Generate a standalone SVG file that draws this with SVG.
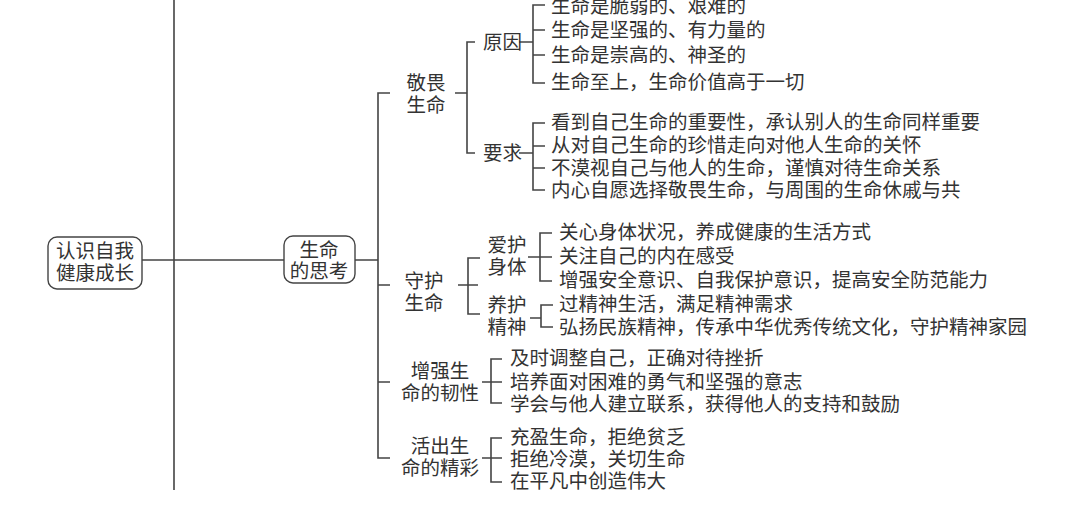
<svg xmlns="http://www.w3.org/2000/svg" width="1080" height="509" viewBox="0 0 1080 509">
<style>
text{font-family:"Liberation Serif","Noto Sans CJK SC",serif;font-size:19.5px;fill:#333;dominant-baseline:central}
.c{text-anchor:middle}
.l{stroke:#444;stroke-width:1.6;fill:none}
.b{stroke:#444;stroke-width:1.4;fill:#fff}
</style>
<rect width="1080" height="509" fill="#fff"/>
<g id="connectors" class="l">
<path d="M174 0V490M142 260H284M355 260H378"/>
<path d="M390 93H378V458H390M378 285H390M378 382H390"/>
<path d="M455 93H467M475 42H467V153H475"/>
<path d="M519 42H533M545 5H533V83H545M533 30H545M533 55H545"/>
<path d="M519 153H533M545 123H533V190H545M533 146H545M533 168H545"/>
<path d="M458 285H478M480 258H468V314H480"/>
<path d="M528 257H552M552 233H540V281H552"/>
<path d="M530 318H541M553 305H541V327H553"/>
<path d="M482 382H502M502 359H491V403H502"/>
<path d="M482 458H502M502 438H491V482H502"/>
</g>
<g id="root"><rect class="b" x="48" y="237" width="94" height="52" rx="9"/><text class="c" x="95" y="251">认识自我</text><text class="c" x="95" y="273">健康成长</text></g>
<g id="n-think"><rect class="b" x="284" y="236" width="71" height="47" rx="9"/><text class="c" x="319" y="250">生命</text><text class="c" x="319" y="271">的思考</text></g>
<g id="n-jw"><text class="c" x="426" y="83">敬畏</text><text class="c" x="426" y="105">生命</text></g>
<g id="n-yy"><text x="483" y="42">原因</text></g>
<g id="n-yq"><text x="483" y="153">要求</text></g>
<g id="items-yy">
<text x="551" y="6">生命是脆弱的、艰难的</text>
<text x="551" y="30">生命是坚强的、有力量的</text>
<text x="551" y="55">生命是崇高的、神圣的</text>
<text x="551" y="82">生命至上，生命价值高于一切</text>
</g>
<g id="items-yq">
<text x="551" y="122">看到自己生命的重要性，承认别人的生命同样重要</text>
<text x="551" y="145">从对自己生命的珍惜走向对他人生命的关怀</text>
<text x="551" y="168">不漠视自己与他人的生命，谨慎对待生命关系</text>
<text x="551" y="190">内心自愿选择敬畏生命，与周围的生命休戚与共</text>
</g>
<g id="n-sh"><text class="c" x="424" y="281">守护</text><text class="c" x="424" y="303">生命</text></g>
<g id="n-ah"><text class="c" x="507" y="245">爱护</text><text class="c" x="507" y="267">身体</text></g>
<g id="n-yh"><text class="c" x="507" y="305">养护</text><text class="c" x="507" y="327">精神</text></g>
<g id="items-ah">
<text x="559" y="232">关心身体状况，养成健康的生活方式</text>
<text x="559" y="256">关注自己的内在感受</text>
<text x="559" y="280">增强安全意识、自我保护意识，提高安全防范能力</text>
</g>
<g id="items-yh">
<text x="559" y="304">过精神生活，满足精神需求</text>
<text x="559" y="327">弘扬民族精神，传承中华优秀传统文化，守护精神家园</text>
</g>
<g id="n-zq"><text class="c" x="440" y="371">增强生</text><text class="c" x="440" y="393">命的韧性</text></g>
<g id="items-zq">
<text x="510" y="358">及时调整自己，正确对待挫折</text>
<text x="510" y="382">培养面对困难的勇气和坚强的意志</text>
<text x="510" y="404">学会与他人建立联系，获得他人的支持和鼓励</text>
</g>
<g id="n-hc"><text class="c" x="440" y="446">活出生</text><text class="c" x="440" y="468">命的精彩</text></g>
<g id="items-hc">
<text x="510" y="437">充盈生命，拒绝贫乏</text>
<text x="510" y="459">拒绝冷漠，关切生命</text>
<text x="510" y="481">在平凡中创造伟大</text>
</g>
</svg>
